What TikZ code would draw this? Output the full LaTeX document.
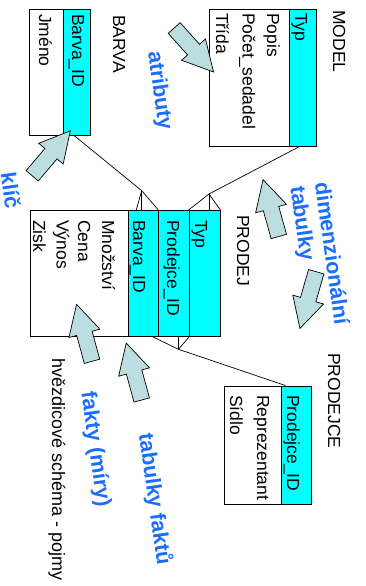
\documentclass[tikz,border=0pt]{standalone}
\usepackage{fontspec}
\setmainfont{Liberation Sans}
\usetikzlibrary{calc}

\definecolor{keycyan}{RGB}{0,255,255}
\definecolor{hintfill}{RGB}{188,222,224}
\definecolor{noteblue}{RGB}{25,110,255}

\tikzset{
  tbl/.style={draw=black, line width=0.9pt, inner sep=0pt},
  keycol/.style={draw=black, line width=0.9pt, fill=keycyan, inner sep=0pt},
  cell/.style={rotate=-90, anchor=base west, inner sep=0pt,
               font=\fontsize{17.5}{21}\selectfont},
  note/.style={rotate=-82, inner sep=0pt, text=noteblue,
               font=\bfseries\fontsize{21.5}{26}\selectfont},
  link/.style={draw=black, line width=0.7pt},
  hint/.pic={
    \draw[fill=hintfill, draw=black, line width=0.7pt, line join=miter]
      (0,-8) -- (29,-8) -- (29,-16) -- (59,0) -- (29,16) -- (29,8) -- (0,8) -- cycle;
  }
}

\begin{document}
\begin{tikzpicture}[x=1pt, y=-1pt]
\useasboundingbox (0,0) rectangle (365,586);

% ---- tables ----
% MODEL
\node[tbl, minimum width=107.4pt, minimum height=137.4pt] (model) at (263,78) {};
\node[keycol, minimum width=27.4pt, minimum height=137.4pt] (modelkey) at (303,78) {};
% BARVA
\node[tbl, minimum width=61pt, minimum height=126pt] (barva) at (59.5,72) {};
\node[keycol, minimum width=27pt, minimum height=126pt] (barvakey) at (76.5,72) {};
% PRODEJ
\node[tbl, minimum width=190pt, minimum height=125.5pt] (prodej) at (125,273.25) {};
\node[keycol, minimum width=30pt, minimum height=125.5pt] (prodejkeyB) at (143,273.25) {};
\node[keycol, minimum width=31pt, minimum height=125.5pt] (prodejkeyP) at (173.5,273.25) {};
\node[keycol, minimum width=31pt, minimum height=125.5pt] (prodejkeyT) at (204.5,273.25) {};
% PRODEJCE
\node[tbl, minimum width=87pt, minimum height=118pt] (prodejce) at (267.5,445) {};
\node[keycol, minimum width=30pt, minimum height=118pt] (prodejcekey) at (296,445) {};

% ---- table titles ----
\node[cell] (tModel) at (333,10) {MODEL};
\node[cell] (tBarva) at (113,15) {BARVA};
\node[cell] (tProdej) at (237,215) {PRODEJ};
\node[cell] (tProdejce) at (328,353) {PRODEJCE};

% ---- columns ----
\node[cell] (mTyp) at (295,13) {Typ};
\node[cell] (mPopis) at (267,13) {Popis};
\node[cell] (mPocet) at (242.5,13) {Počet\_sedadel};
\node[cell] (mTrida) at (216,13) {Třída};

\node[cell] (bId) at (72,14) {Barva\_ID};
\node[cell] (bJmeno) at (39,14) {Jméno};

\node[cell] (pTyp) at (195,220) {Typ};
\node[cell] (pProdejce) at (167,220) {Prodejce\_ID};
\node[cell] (pBarva) at (133,220) {Barva\_ID};
\node[cell] (pMnozstvi) at (102,220) {Množství};
\node[cell] (pCena) at (78,220) {Cena};
\node[cell] (pVynos) at (56.5,220) {Výnos};
\node[cell] (pZisk) at (33,220) {Zisk};

\node[cell] (sId) at (287,395) {Prodejce\_ID};
\node[cell] (sRep) at (257,395) {Reprezentant};
\node[cell] (sSidlo) at (230,395) {Sídlo};

% ---- relationships with crow's feet ----
\coordinate (crowT) at (209,194);
\coordinate (crowB) at (141.7,190.7);
\coordinate (crowP) at (178.5,349.3);

\draw[link] ($(modelkey.south)+(-4.7,0)$) -- (crowT);
\draw[link] (prodejkeyT.north west) -- (crowT) -- (prodejkeyT.north east);
\draw[link] (crowT) -- (crowT |- prodejkeyT.north);

\draw[link] ($(barvakey.south)+(-2.5,0)$) -- (crowB);
\draw[link] ($(prodejkeyB.north west)+(8.7,0)$) -- (crowB) -- (prodejkeyB.north east);
\draw[link] (crowB) -- (crowB |- prodejkeyB.north);

\draw[link] ($(prodejkeyP.south west)+(-5.5,0)$) -- (crowP) -- (prodejkeyP.south east);
\draw[link] (crowP) -- (crowP |- prodejkeyP.south);
\draw[link] (crowP) -- ($(prodejcekey.north west)+(5,0)$);

% ---- pointer arrows ----
\pic[rotate=-48.2] at (174.2,28) {hint};
\pic[rotate=49.7] at (32.2,175.8) {hint};
\pic[rotate=105.5] at (278.8,236.5) {hint};
\pic[rotate=-106] at (316.2,271.7) {hint};
\pic[rotate=105.2] at (92,361.3) {hint};
\pic[rotate=105.2] at (141.7,400) {hint};

% ---- annotations ----
\node[note] (nAtributy) at (159,91) {atributy};
\node[note] (nKlic) at (11,190) {klíč};
\node[note] (nDim) at (332.5,253) {dimenzionální};
\node[note] (nTab) at (301,223.5) {tabulky};
\node[note] (nFakty) at (95,449.5) {fakty (míry)};
\node[note] (nTabF) at (154.5,499) {tabulky faktů};

\node[cell, font=\fontsize{18}{22}\selectfont] (caption) at (52,358) {hvězdicové schéma - pojmy};
\end{tikzpicture}
\end{document}
